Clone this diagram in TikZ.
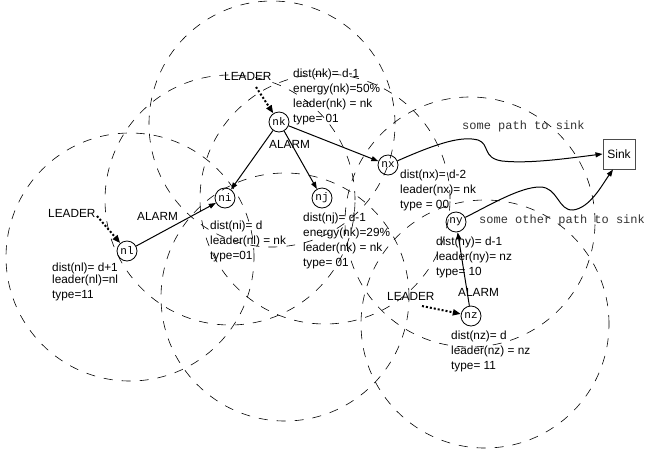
\documentclass[tikz,border=0pt]{standalone}
\usepackage{fontspec}
\setmainfont{Liberation Sans}
\newfontfamily\cour{Liberation Mono}
\usetikzlibrary{arrows.meta}
\begin{document}
\begin{tikzpicture}[x=1pt,y=-1pt,
  radiorange/.style={draw, line width=0.6pt, dash pattern=on 9pt off 9pt},
  sensor/.style={draw, circle, minimum size=20pt, inner sep=0pt, line width=0.8pt,
    font=\cour\fontsize{11}{11}\selectfont},
  infobox/.style={anchor=north west, inner sep=0pt, align=left, font=\fontsize{11.8}{15}\selectfont},
  msgtag/.style={anchor=base west, inner sep=0pt, font=\fontsize{11.8}{14}\selectfont},
  pathtag/.style={anchor=base west, inner sep=0pt, text=black!80, font=\cour\fontsize{12}{12}\selectfont},
  linkmsg/.style={-{Triangle[length=7pt,width=5pt]}, line width=1pt},
  leadmsg/.style={-{Triangle[length=8pt,width=6pt]}, line width=2pt, dash pattern=on 2pt off 2pt},
]
\fill[white] (0,0) rectangle (647,448);
\useasboundingbox (0,0) rectangle (647,448);

% radio ranges
\draw[radiorange] (130,257) circle[radius=124pt];
\draw[radiorange] (230,200) circle[radius=125pt];
\draw[radiorange] (272,124) circle[radius=123pt];
\draw[radiorange] (325,199) circle[radius=125pt];
\draw[radiorange] (285,297) circle[radius=124pt];
\draw[radiorange] (470,222) circle[radius=125pt];
\draw[radiorange] (485,324) circle[radius=124pt];

% sensor nodes
\node[sensor] (nk) at (279,122) {nk};
\node[sensor] (ni) at (225,198) {ni};
\node[sensor] (nj) at (322,198) {nj};
\node[sensor] (nx) at (388,165) {nx};
\node[sensor] (ny) at (456,222) {ny};
\node[sensor] (nz) at (471,316) {nz};
\node[sensor] (nl) at (127,251) {nl};
\node[draw=black!70, line width=1pt, minimum width=32pt, minimum height=30pt, inner sep=0pt,
  font=\fontsize{12}{12}\selectfont] (sink) at (619,154) {Sink};

% node state
\node[infobox] (infk) at (293,69) {dist(nk)= d-1\\energy(nk)=50\%\\leader(nk) = nk\\type= 01};
\node[infobox] (infl) at (52,263) {dist(nl)= d+1\\[-3pt]leader(nl)=nl\\type=11};
\node[infobox] (infi) at (210,221) {dist(ni)= d\\leader(nl) = nk\\type=01};
\node[infobox] (infj) at (303,213) {dist(nj)= d-1\\energy(nk)=29\%\\leader(nk) = nk\\type= 01};
\node[infobox] (infx) at (400,170) {dist(nx)= d-2\\leader(nx)= nk\\type = 00};
\node[infobox] (infy) at (436,237) {dist(ny)= d-1\\leader(ny)= nz\\type= 10};
\node[infobox] (infz) at (451,331) {dist(nz)= d\\leader(nz) = nz\\type= 11};

% message labels
\node[msgtag] (ldrk) at (224,80) {LEADER};
\node[msgtag] (alk) at (269,148) {ALARM};
\node[msgtag] (ldrl) at (48,217) {LEADER};
\node[msgtag] (all) at (137,220) {ALARM};
\node[msgtag] (ldrz) at (387,300) {LEADER};
\node[msgtag] (alz) at (458,296) {ALARM};
\node[pathtag] (p1) at (462,129) {some path to sink};
\node[pathtag] (p2) at (479,223) {some other path to sink};

% leader announcements
\coordinate (sk) at (256,87);
\coordinate (sl) at (97,216);
\coordinate (sz) at (422,306);
\draw[leadmsg] (sk) -- (nk);
\draw[leadmsg] (sl) -- (nl);
\draw[leadmsg] (sz) -- (nz);

% alarms
\draw[linkmsg] (nk) -- (ni);
\draw[linkmsg] (nk) -- (nj);
\draw[linkmsg] (nk) -- (nx);
\draw[linkmsg] (nl) -- (ni);
\draw[linkmsg] (nz) -- (ny);

% routes to the sink
\draw[linkmsg] (nx) .. controls (440,142) and (462,136) .. (478,140)
  .. controls (490,144) and (482,158) .. (502,161)
  .. controls (530,164) and (570,158) .. (sink.west);
\draw[linkmsg] (ny) .. controls (490,205) and (520,187) .. (540,187)
  .. controls (558,187) and (558,211) .. (573,210)
  .. controls (590,208) and (602,185) .. ([xshift=-6pt]sink.south);
\end{tikzpicture}
\end{document}
